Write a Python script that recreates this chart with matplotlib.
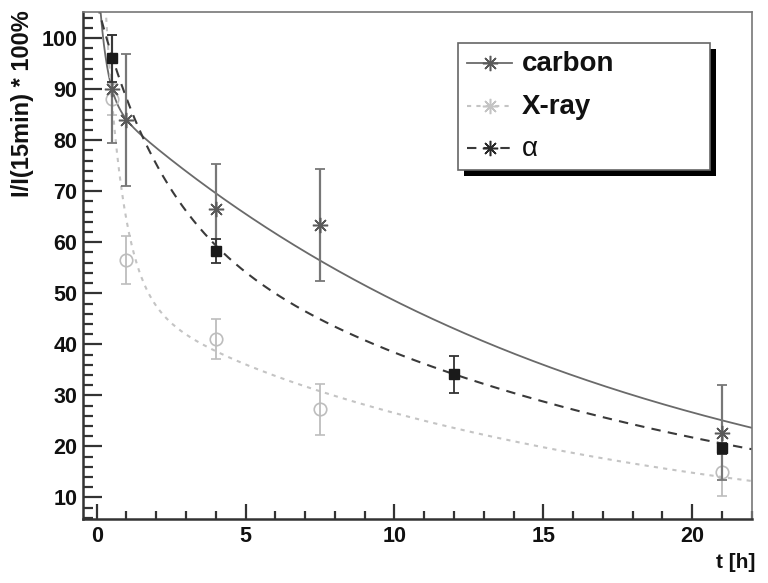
import numpy as np
import matplotlib
matplotlib.use("Agg")
import matplotlib.pyplot as plt
from matplotlib.lines import Line2D
from matplotlib.patches import Rectangle

# ---------------- data ----------------
t_carbon = [0.5, 1.0, 4.0, 7.5, 21.0]
y_carbon = [90.0, 84.0, 66.5, 63.4, 22.7]
e_carbon = [10.6, 13.0, 8.8, 11.0, 9.3]

t_xray = [0.5, 1.0, 4.0, 7.5, 21.0]
y_xray = [88.0, 56.5, 41.1, 27.3, 15.0]
e_xray = [3.0, 4.7, 3.9, 5.0, 4.7]

t_alpha = [0.5, 4.0, 12.0, 21.0]
y_alpha = [96.1, 58.3, 34.1, 19.6]
e_alpha = [4.6, 2.4, 3.6, 1.1]

# fit curves: sum of exponentials (amplitudes, rates in 1/h)
carbon_amp = [88.5, 28.0]
carbon_rate = [0.060, 3.66]
xray_amp = [47.3, 8.0, 90.0]
xray_rate = [0.058, 0.5, 1.8]
alpha_amp = [66.5, 40.6]
alpha_rate = [0.0559, 0.47]

x_ticks = [0, 5, 10, 15, 20]
y_ticks = [10, 20, 30, 40, 50, 60, 70, 80, 90, 100]
legend_labels = ["carbon", "X-ray", "\u03b1"]

# ---------------- styling ----------------
W, H = 768, 583
fig = plt.figure(figsize=(W / 100, H / 100), dpi=100)
plt.rcParams['font.family'] = ['Liberation Sans', 'DejaVu Sans']

def fx(px):
    return px / W

def fy(py):
    return 1 - py / H

ax = fig.add_axes([fx(82.7), fy(519.3), fx(751.7) - fx(82.7), fy(11.7) - fy(519.3)])
ax.set_xlim(-0.47, 22.0)
ax.set_ylim(5.7, 105.2)

c_carbon = "#5a5a5a"
c_xray = "#bdbdbd"
c_alpha = "#2a2a2a"
asterisk = (8, 2, 0)

def fitcurve(t, amps, rates):
    return sum(a * np.exp(-r * t) for a, r in zip(amps, rates))

tt = np.linspace(0.02, 22.0, 800)
ax.plot(tt, fitcurve(tt, carbon_amp, carbon_rate), color="#6a6a6a", lw=1.3, ls="-", zorder=2)
ax.plot(tt, fitcurve(tt, xray_amp, xray_rate), color="#c4c4c4", lw=1.5, ls=(0, (2, 2.5)), zorder=2)
ax.plot(tt, fitcurve(tt, alpha_amp, alpha_rate), color="#3a3a3a", lw=1.5, ls=(0, (4.5, 3.5)), zorder=2)

# data with error bars
ax.errorbar(t_xray, y_xray, yerr=e_xray, fmt="o", mfc="none", mec=c_xray, ms=9,
            mew=1.2, ecolor=c_xray, elinewidth=1.3, capsize=3.5, capthick=1.3, zorder=3)
ax.errorbar(t_carbon, y_carbon, yerr=e_carbon, fmt="none", ecolor="#777777",
            elinewidth=1.6, capsize=3.5, capthick=1.3, zorder=4)
ax.plot(t_carbon, y_carbon, ls="none", marker=asterisk, ms=11, mew=1.1, color=c_carbon, zorder=5)
ax.errorbar(t_alpha, y_alpha, yerr=e_alpha, fmt="s", color="#1a1a1a", ms=7.5,
            ecolor="#333333", elinewidth=1.3, capsize=3.5, capthick=1.3, zorder=6)

# axes, ticks (ROOT style: inside ticks on left/bottom)
for side in ["top", "right"]:
    ax.spines[side].set_color("#777777")
    ax.spines[side].set_linewidth(1.2)
for side in ["left", "bottom"]:
    ax.spines[side].set_color("#333333")
    ax.spines[side].set_linewidth(1.8)

ax.set_xticks(x_ticks)
ax.set_xticks(np.arange(0, 22.01, 1), minor=True)
ax.set_yticks(y_ticks)
ax.set_yticks(np.arange(6, 105, 2), minor=True)
ax.tick_params(axis="both", which="major", direction="in", color="#333333", width=1.6)
ax.tick_params(axis="both", which="minor", direction="in", color="#333333", width=1.6)
ax.tick_params(axis="x", which="major", length=11)
ax.tick_params(axis="x", which="minor", length=6)
ax.tick_params(axis="y", which="major", length=14)
ax.tick_params(axis="y", which="minor", length=7)
ax.tick_params(top=False, right=False, which="both")
ax.tick_params(axis="both", labelsize=15.5)
for lab in ax.get_xticklabels() + ax.get_yticklabels():
    lab.set_fontweight("bold")
    lab.set_color("#111111")
ax.tick_params(axis="x", pad=5)
ax.tick_params(axis="y", pad=4)

fig.text(fx(23), fy(10), "I/I(15min) * 100%", rotation=90, ha="center", va="top",
         fontsize=17, fontweight="bold", color="#111111")
fig.text(fx(755), fy(562), "t [h]", ha="right", va="center",
         fontsize=15, fontweight="bold", color="#111111")

# legend box with black shadow
lx0, ly0, lx1, ly1 = 458.3, 43.3, 710.0, 170.0
fig.add_artist(Rectangle((fx(lx0 + 6), fy(ly1 + 6)), fx(lx1 - lx0), fy(ly0) - fy(ly1),
                         transform=fig.transFigure, facecolor="black", edgecolor="none", zorder=10))
fig.add_artist(Rectangle((fx(lx0), fy(ly1)), fx(lx1 - lx0), fy(ly0) - fy(ly1),
                         transform=fig.transFigure, facecolor="white", edgecolor="#666666",
                         lw=1.2, zorder=11))
rows_y = [63.3, 106.0, 148.3]
styles = [dict(color="#6a6a6a", ls="-", lw=1.3, mcol=c_carbon),
          dict(color="#c4c4c4", ls=(0, (2, 2.5)), lw=1.5, mcol="#c4c4c4"),
          dict(color="#3a3a3a", ls=(0, (4.5, 3.5)), lw=1.5, mcol=c_alpha)]
for ry, lab, st in zip(rows_y, legend_labels, styles):
    fig.add_artist(Line2D([fx(466.7), fx(511.7)], [fy(ry), fy(ry)], transform=fig.transFigure,
                          color=st["color"], ls=st["ls"], lw=st["lw"], zorder=12))
    fig.add_artist(Line2D([fx(490)], [fy(ry)], transform=fig.transFigure, ls="none",
                          marker=asterisk, ms=11, mew=1.1, color=st["mcol"], zorder=13))
    weight = "normal" if lab == "\u03b1" else "bold"
    fig.text(fx(521.7), fy(ry + 1), lab, ha="left", va="center", fontsize=20,
             fontweight=weight, color="#111111", zorder=13)

fig.savefig("out.png", dpi=100)
